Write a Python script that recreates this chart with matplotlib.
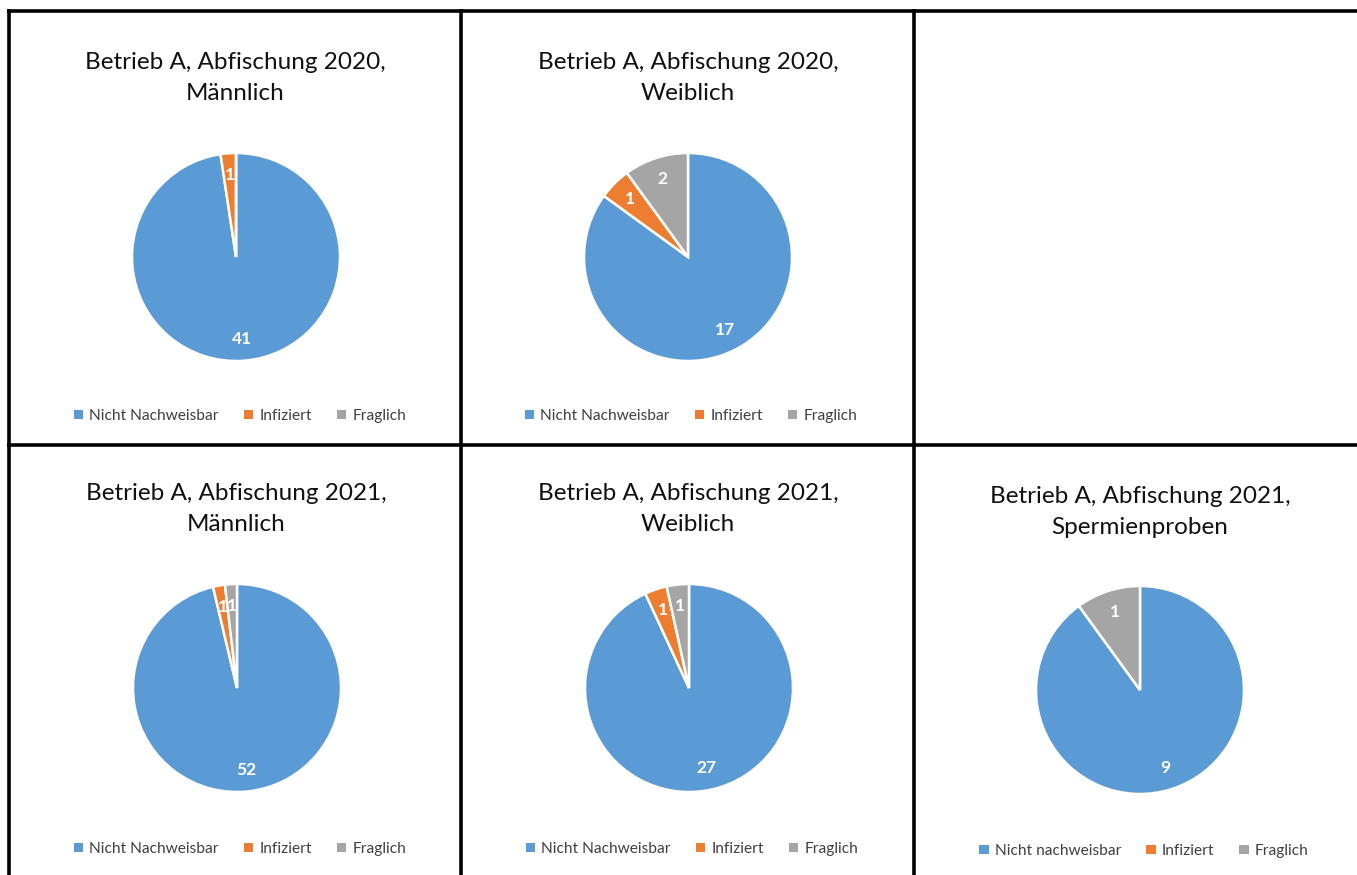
import matplotlib
matplotlib.use("Agg")
import matplotlib.pyplot as plt
from matplotlib.lines import Line2D
from matplotlib.patches import Patch

# ---- data ----
titles = [
    "Betrieb A, Abfischung 2020,\nMännlich",
    "Betrieb A, Abfischung 2020,\nWeiblich",
    "Betrieb A, Abfischung 2021,\nMännlich",
    "Betrieb A, Abfischung 2021,\nWeiblich",
    "Betrieb A, Abfischung 2021,\nSpermienproben",
]
categories = ["Nicht Nachweisbar", "Infiziert", "Fraglich"]
categories_sperm = ["Nicht nachweisbar", "Infiziert", "Fraglich"]
m2020 = [41, 1, 0]
w2020 = [17, 1, 2]
m2021 = [52, 1, 1]
w2021 = [27, 1, 1]
sperm2021 = [9, 0, 1]
colors = ["#5B9BD5", "#ED7D31", "#A5A5A5"]

W, H = 1357, 875
fig = plt.figure(figsize=(W / 100, H / 100), dpi=100)
FONT = ["Lato", "DejaVu Sans"]

def px(x, y):
    return x / W, 1 - y / H

panels = [
    # values, title, labels, pie center, radius, title center, legend center
    (m2020, titles[0], categories, (236, 257), 104, (235, 78), (240, 416)),
    (w2020, titles[1], categories, (688, 257), 104, (688, 78), (691, 416)),
    (m2021, titles[2], categories, (237, 688), 104, (236, 509), (240, 849)),
    (w2021, titles[3], categories, (689, 688), 104, (688, 509), (692, 849)),
    (sperm2021, titles[4], categories_sperm, (1140, 690), 104, (1140, 512), (1144, 851)),
]

for vals, title, labs, (cx, cy), r, (tx, ty), (lx, ly) in panels:
    x0, y0 = px(cx - r, cy + r)
    ax = fig.add_axes([x0, y0, 2 * r / W, 2 * r / H])
    wedges, texts, autotexts = ax.pie(
        vals, colors=colors, startangle=90, counterclock=False,
        autopct=lambda p, v=vals: (f"{int(round(p * sum(v) / 100))}" if p > 0 else ""),
        pctdistance=0.79,
        wedgeprops=dict(edgecolor="white", linewidth=1.8),
        textprops=dict(color="white", fontsize=12.5, fontweight="bold", family=FONT),
    )
    ax.set_xlim(-1, 1)
    ax.set_ylim(-1, 1)
    ax.set_aspect("equal")
    ax.axis("off")
    fig.text(*px(tx, ty), title, ha="center", va="center", fontsize=17.5,
             family=FONT, color="#111111", linespacing=1.62)
    handles = [Patch(facecolor=c, edgecolor="none") for c in colors]
    fig.legend(handles, labs, loc="center", bbox_to_anchor=px(lx, ly), ncol=3,
               frameon=False, handlelength=0.6, handleheight=0.6, handletextpad=0.4,
               columnspacing=1.6, prop=dict(family=FONT, size=11.2),
               labelcolor="#404040")

# ---- borders ----
lw = 2.6
def hline(y, x1, x2):
    fig.add_artist(Line2D([x1 / W, x2 / W], [1 - y / H, 1 - y / H], color="black", lw=lw,
                          solid_capstyle="butt"))
def vline(x, y1, y2):
    fig.add_artist(Line2D([x / W, x / W], [1 - y1 / H, 1 - y2 / H], color="black", lw=lw,
                          solid_capstyle="butt"))

hline(10.5, 7, W)
hline(444.5, 7, W)
vline(9, 9, H)
vline(461, 9, H)
vline(914, 9, H)

fig.savefig("out.png", dpi=100, facecolor="white")
